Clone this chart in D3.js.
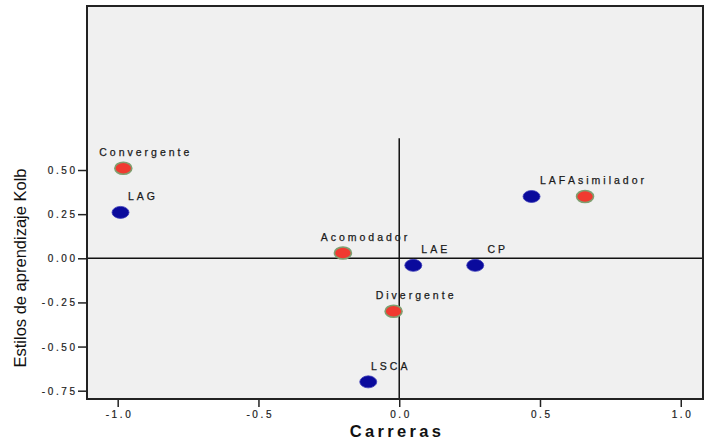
<!DOCTYPE html>
<html><head><meta charset="utf-8">
<script src="https://cdn.jsdelivr.net/npm/d3@7"></script>
<style>body{margin:0;background:#fff}svg{display:block}</style>
</head><body><svg id="c" width="705" height="442"></svg>
<script>
const labels = ["Convergente","LAG","LAF","Asimilador","Acomodador","LAE","CP","Divergente","LSCA"];
const xValues = [-0.98,-0.99,0.47,0.66,-0.20,0.05,0.27,-0.02,-0.11];
const yValues = [0.51,0.26,0.35,0.35,0.03,-0.04,-0.04,-0.30,-0.70];
const groups  = ["estilo","carrera","carrera","estilo","estilo","carrera","carrera","estilo","carrera"];
const xTicks = [-1.0,-0.5,0.0,0.5,1.0];
const yTicks = [0.50,0.25,0.00,-0.25,-0.50,-0.75];
const xDomain = [-1.109,1.079];
const yDomain = [-0.797,1.429];
const vRefTop = 0.68;

const svg = d3.select("#c");
const L=87,R=703,T=6,B=399;
const x = d3.scaleLinear().domain(xDomain).range([L,R]);
const y = d3.scaleLinear().domain(yDomain).range([B,T]);

svg.append("rect").attr("x",L).attr("y",T).attr("width",R-L).attr("height",B-T).attr("fill","#f0f0f0");

// reference lines
svg.append("line").attr("x1",L).attr("x2",R).attr("y1",y(0)).attr("y2",y(0)).attr("stroke","#111").attr("stroke-width",1.5);
svg.append("line").attr("x1",x(0)).attr("x2",x(0)).attr("y1",y(vRefTop)).attr("y2",B).attr("stroke","#111").attr("stroke-width",1.5);

const tickFont = "'Liberation Sans', Arial, sans-serif";
const fx = v => d3.format(".1f")(v).replace("\u2212","-");
const fy = v => d3.format(".2f")(v).replace("\u2212","-");
const xAxis = svg.append("g").attr("transform",`translate(0,${B})`)
  .call(d3.axisBottom(x).tickValues(xTicks).tickFormat(fx).tickSize(8).tickSizeOuter(0));
const yAxis = svg.append("g").attr("transform",`translate(${L},0)`)
  .call(d3.axisLeft(y).tickValues(yTicks).tickFormat(fy).tickSize(9).tickSizeOuter(0));
[xAxis,yAxis].forEach(g=>{
  g.select(".domain").remove();
  g.selectAll(".tick line").attr("stroke","#222").attr("stroke-width",1.5);
  g.selectAll(".tick text").attr("font-family",tickFont).attr("font-size",10).attr("fill","#222")
    .attr("stroke","#222").attr("stroke-width",0.2)
    .style("letter-spacing","2.6px");
});
xAxis.selectAll(".tick text").attr("y",12).attr("dx","1.3px");
yAxis.selectAll(".tick text").attr("x",-12).attr("dx","2.6px").attr("dy","0.35em");

// frame
svg.append("rect").attr("x",L).attr("y",T).attr("width",R-L).attr("height",B-T)
  .attr("fill","none").attr("stroke","#222").attr("stroke-width",2);

const data = labels.map((l,i)=>({l,x:xValues[i],y:yValues[i],g:groups[i]}));

const pts = svg.append("g");
pts.selectAll("ellipse").data(data).join("ellipse")
  .attr("cx",d=>x(d.x)).attr("cy",d=>y(d.y))
  .attr("rx",8.5).attr("ry",6)
  .attr("fill",d=>d.g==="estilo"?"#f03a30":"#0a0a9c")
  .attr("stroke",d=>d.g==="estilo"?"#7f9f70":"#3a3ab8")
  .attr("stroke-width",d=>d.g==="estilo"?1.6:0.8);

svg.append("g").selectAll("text").data(data).join("text")
  .attr("x",d=>x(d.x)+21+1.5).attr("y",d=>y(d.y)-12)
  .attr("text-anchor","middle")
  .attr("font-family",tickFont).attr("font-size",10.5).attr("fill","#1a1a1a")
  .attr("stroke","#1a1a1a").attr("stroke-width",0.25)
  .style("letter-spacing","3px")
  .text(d=>d.l);

svg.append("text").attr("x",(L+R)/2+2).attr("y",437).attr("text-anchor","middle")
  .attr("font-family",tickFont).attr("font-size",16.5).attr("font-weight","bold").attr("fill","#111")
  .style("letter-spacing","3.3px").text("Carreras");

svg.append("text").attr("transform","translate(26,268) rotate(-90)").attr("text-anchor","middle")
  .attr("font-family","'Liberation Sans Narrow', 'Liberation Sans', Arial, sans-serif").attr("font-size",16.5).attr("fill","#111")
  .text("Estilos de aprendizaje Kolb");
</script></body></html>
